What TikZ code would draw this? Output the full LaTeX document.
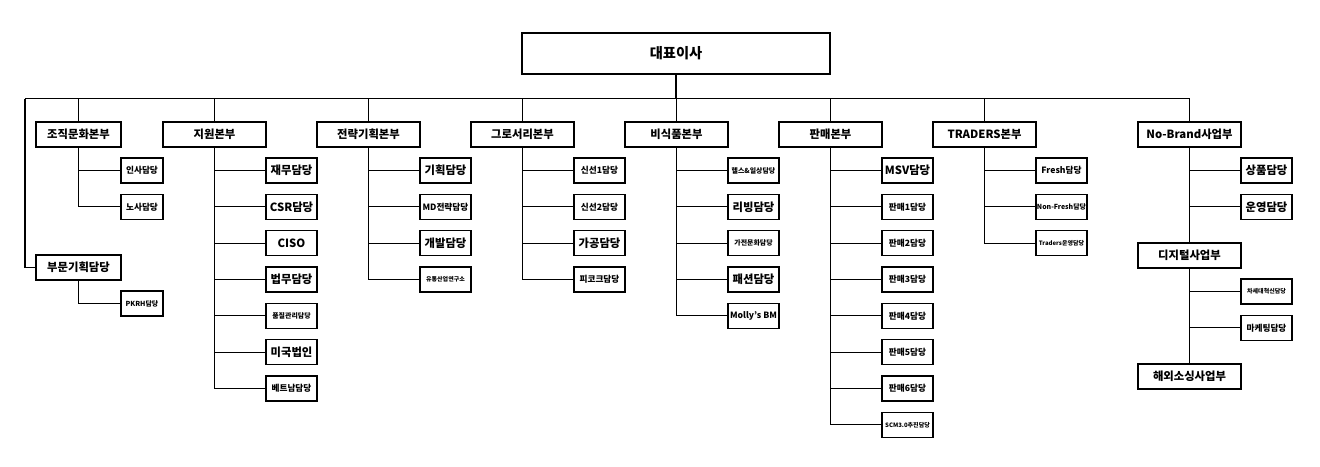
\documentclass[tikz,border=0pt]{standalone}
\usepackage{fontspec}
\setmainfont{Noto Sans CJK KR}
\usepackage{tikz}
\usetikzlibrary{positioning}

\begin{document}
\begin{tikzpicture}[
  x=0.75pt,y=-0.75pt,
  node distance=8.5pt and 38.25pt,
  line width=0.9pt,
  ceo/.style={rectangle,draw,outer sep=0pt,minimum width=231pt,minimum height=30.75pt,inner sep=1pt,font=\fontsize{10.7pt}{12pt}\selectfont\bfseries},
  hq/.style={rectangle,draw,outer sep=0pt,minimum width=77.25pt,minimum height=18.75pt,inner sep=1pt,font=\fontsize{8.5pt}{10pt}\selectfont\bfseries},
  unit/.style={rectangle,draw,outer sep=0pt,minimum width=38.25pt,minimum height=18.75pt,inner sep=0.5pt,font=\fontsize{6.5pt}{8pt}\selectfont\bfseries},
  fbig/.style={font=\fontsize{8.5pt}{10pt}\selectfont\bfseries},
  fsml/.style={font=\fontsize{5.2pt}{6pt}\selectfont\bfseries},
  ftny/.style={font=\fontsize{4.5pt}{5pt}\selectfont\bfseries}
]
  \useasboundingbox (0,0) rectangle (1320,467);

  \node[ceo] (ceo) at (676,53.5) {대표이사};

  \node[hq,minimum width=63.75pt] (jojik) at (78.5,134.5) {조직문화본부};
  \node[hq,right=31.5pt of jojik] (jiwon) {지원본부};
  \node[hq,right=of jiwon] (jeonryak) {전략기획본부};
  \node[hq,right=of jeonryak] (grocery) {그로서리본부};
  \node[hq,right=of grocery] (bisikpum) {비식품본부};
  \node[hq,right=of bisikpum] (panmae) {판매본부};
  \node[hq,right=of panmae] (traders) {TRADERS본부};
  \node[hq,right=76.5pt of traders] (nobrand) {No-Brand사업부};
  \node[hq,minimum width=63.75pt,below=81pt of jojik] (bumun) {부문기획담당};
  \node[hq,below=72pt of nobrand] (digital) {디지털사업부};
  \node[hq,below=72pt of digital] (haeoe) {해외소싱사업부};

  \node[unit,minimum width=31.5pt,below right=8.25pt and 0pt of jojik] (insa) {인사담당};
  \node[unit,minimum width=31.5pt,below=of insa] (nosa) {노사담당};
  \node[unit,fsml,minimum width=31.5pt,below right=8.25pt and 0pt of bumun] (pkrh) {PKRH담당};

  \node[unit,fbig,below right=8.25pt and 0pt of jiwon] (jaemu) {재무담당};
  \node[unit,fbig,below=of jaemu] (csr) {CSR담당};
  \node[unit,fbig,below=of csr] (ciso) {CISO};
  \node[unit,fbig,below=of ciso] (beopmu) {법무담당};
  \node[unit,fsml,below=of beopmu] (pumjil) {품질관리담당};
  \node[unit,fbig,below=of pumjil] (usa) {미국법인};
  \node[unit,below=of usa] (vietnam) {베트남담당};

  \node[unit,fbig,below right=8.25pt and 0pt of jeonryak] (gihoek) {기획담당};
  \node[unit,below=of gihoek] (mdj) {MD전략담당};
  \node[unit,fbig,below=of mdj] (gaebal) {개발담당};
  \node[unit,ftny,below=of gaebal] (yutong) {유통산업연구소};

  \node[unit,below right=8.25pt and 0pt of grocery] (sinseon1) {신선1담당};
  \node[unit,below=of sinseon1] (sinseon2) {신선2담당};
  \node[unit,fbig,below=of sinseon2] (gagong) {가공담당};
  \node[unit,below=of gagong] (peacock) {피코크담당};

  \node[unit,fsml,below right=8.25pt and 0pt of bisikpum] (health) {헬스\&일상담당};
  \node[unit,fbig,below=of health] (living) {리빙담당};
  \node[unit,fsml,below=of living] (gajeon) {가전문화담당};
  \node[unit,fbig,below=of gajeon] (fashion) {패션담당};
  \node[unit,below=of fashion] (mollys) {Molly's BM};

  \node[unit,fbig,below right=8.25pt and 0pt of panmae] (msv) {MSV담당};
  \node[unit,below=of msv] (pm1) {판매1담당};
  \node[unit,below=of pm1] (pm2) {판매2담당};
  \node[unit,below=of pm2] (pm3) {판매3담당};
  \node[unit,below=of pm3] (pm4) {판매4담당};
  \node[unit,below=of pm4] (pm5) {판매5담당};
  \node[unit,below=of pm5] (pm6) {판매6담당};
  \node[unit,ftny,below=of pm6] (scm) {SCM3.0추진담당};

  \node[unit,below right=8.25pt and 0pt of traders] (fresh) {Fresh담당};
  \node[unit,fsml,below=of fresh] (nonfresh) {Non-Fresh담당};
  \node[unit,ftny,below=of nonfresh] (trops) {Traders운영담당};

  \node[unit,fbig,below right=8.25pt and 0pt of nobrand] (sangpum) {상품담당};
  \node[unit,fbig,below=of sangpum] (unyeong) {운영담당};
  \node[unit,ftny,below right=8.25pt and 0pt of digital] (chasedae) {차세대혁신담당};
  \node[unit,below=of chasedae] (marketing) {마케팅담당};

  \coordinate (busL) at (25,98.5);
  \draw (busL) -- (busL -| nobrand);
  \draw (ceo) -- (ceo |- busL);
  \foreach \hd in {jojik,jiwon,jeonryak,grocery,bisikpum,panmae,traders,nobrand}
    \draw (\hd) -- (\hd |- busL);
  \draw (busL) |- (bumun);

  \foreach \sb in {insa,nosa} \draw (jojik) |- (\sb);
  \draw (bumun) |- (pkrh);
  \foreach \sb in {jaemu,csr,ciso,beopmu,pumjil,usa,vietnam} \draw (jiwon) |- (\sb);
  \foreach \sb in {gihoek,mdj,gaebal,yutong} \draw (jeonryak) |- (\sb);
  \foreach \sb in {sinseon1,sinseon2,gagong,peacock} \draw (grocery) |- (\sb);
  \foreach \sb in {health,living,gajeon,fashion,mollys} \draw (bisikpum) |- (\sb);
  \foreach \sb in {msv,pm1,pm2,pm3,pm4,pm5,pm6,scm} \draw (panmae) |- (\sb);
  \foreach \sb in {fresh,nonfresh,trops} \draw (traders) |- (\sb);
  \foreach \sb in {sangpum,unyeong} \draw (nobrand) |- (\sb);
  \draw (nobrand) -- (digital);
  \foreach \sb in {chasedae,marketing} \draw (digital) |- (\sb);
  \draw (digital) -- (haeoe);
\end{tikzpicture}
\end{document}
